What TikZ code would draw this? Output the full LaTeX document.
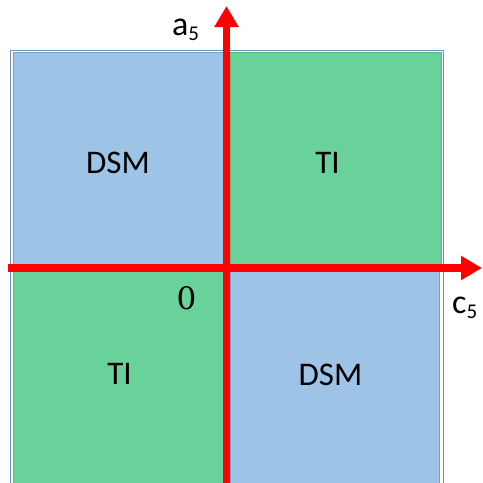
\documentclass[tikz,border=0pt]{standalone}
\usepackage{fontspec}
\setmainfont{Carlito}
\newfontfamily\zerofont{DejaVu Serif}
\usetikzlibrary{arrows.meta}
\definecolor{qblue}{RGB}{157,195,230}
\definecolor{qgreen}{RGB}{104,210,154}
\definecolor{qblueline}{RGB}{120,160,205}
\definecolor{qgreenline}{RGB}{90,185,135}
\definecolor{frameline}{RGB}{110,145,190}
\tikzset{
  quadblue/.style={fill=qblue,draw=qblueline,line width=0.8pt},
  quadgreen/.style={fill=qgreen,draw=qgreenline,line width=0.8pt},
  axis/.style={draw=red,line width=7.5pt,-{Triangle[length=21pt,width=23pt]}},
  region/.style={font=\fontsize{33}{36}\selectfont,inner sep=0pt,anchor=base},
  axlabel/.style={font=\fontsize{34}{38}\selectfont,inner sep=0pt,anchor=base west}
}
\newcommand{\subfive}{\raisebox{-5pt}{\fontsize{21}{22}\selectfont 5}}
\begin{document}
\begin{tikzpicture}[x=1pt,y=-1pt]
\useasboundingbox (0,0) rectangle (483,483);
% outer frame
\draw[frameline,line width=0.9pt] (10,50) -- (10,490) (10,50) -- (443.5,50) -- (443.5,490);
% quadrants
\path[quadblue] (13,52.5) rectangle (223,264);
\path[quadgreen] (230,52.5) rectangle (441,264);
\path[quadgreen] (13,271.5) rectangle (223,490);
\path[quadblue] (230,271.5) rectangle (439.5,490);
% axes
\coordinate (xs) at (8,268);
\coordinate (xe) at (482,268);
\coordinate (ys) at (226.5,490);
\coordinate (ye) at (226.5,6);
\draw[axis] (xs) -- (xe);
\draw[axis] (ys) -- (ye);
% labels
\node[region] (dsm1) at (118,173) {DSM};
\node[region] (ti1) at (327.5,173) {TI};
\node[region] (ti2) at (119.5,384.5) {TI};
\node[region] (dsm2) at (330.5,385) {DSM};
\node[inner sep=0pt,anchor=base,font=\zerofont\fontsize{31}{34}\selectfont] (zero) at (186.5,309.5) {0};
\node[axlabel] (alab) at (172,35) {a\subfive};
\node[axlabel] (clab) at (452,313) {c\subfive};
\end{tikzpicture}
\end{document}
